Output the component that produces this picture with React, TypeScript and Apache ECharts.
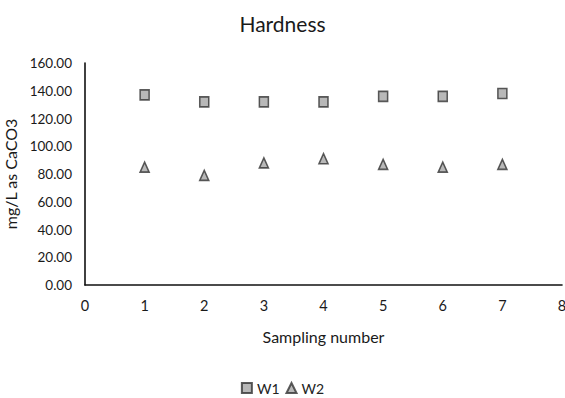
import React, { useEffect, useRef } from "react";
import * as echarts from "echarts";

// Sampling rounds 1..7
const samplingNumbers = [1, 2, 3, 4, 5, 6, 7];
// Hardness (mg/L as CaCO3)
const w1Values = [137, 132, 132, 132, 136, 136, 138];
const w2Values = [85, 79, 88, 91, 87, 85, 87];

const FONT = "Lato, 'Open Sans', sans-serif";

export default function App() {
  const ref = useRef<HTMLDivElement>(null);

  useEffect(() => {
    if (!ref.current) return;
    const chart = echarts.init(ref.current, undefined, { renderer: "svg" });
    const markerStyle = {
      color: "#a6a6a6",
      borderColor: "#333333",
      borderWidth: 1.6,
    };
    chart.setOption({
      animation: false,
      backgroundColor: "#ffffff",
      textStyle: { fontFamily: FONT },
      title: {
        text: "Hardness",
        left: "center",
        top: 8,
        textStyle: { fontFamily: FONT, fontSize: 21, fontWeight: "normal", color: "#1a1a1a" },
      },
      legend: {
        top: 376,
        left: "center",
        itemWidth: 10,
        itemHeight: 10,
        itemGap: 6,
        textStyle: { fontFamily: FONT, fontSize: 14, color: "#222" },
        data: ["W1", "W2"],
      },
      grid: {
        left: 85,
        right: 3,
        top: 63,
        bottom: 113,
        containLabel: false,
        outerBoundsMode: "none",
      },
      xAxis: {
        type: "value",
        min: 0,
        max: 8,
        interval: 1,
        name: "Sampling number",
        nameLocation: "middle",
        nameGap: 43,
        nameTextStyle: { fontFamily: FONT, fontSize: 16, color: "#1a1a1a" },
        axisLine: { show: true, lineStyle: { color: "#111", width: 1.6 } },
        axisTick: { show: false },
        splitLine: { show: false },
        axisLabel: { fontFamily: FONT, fontSize: 14.5, color: "#1a1a1a", margin: 13 },
      },
      yAxis: {
        type: "value",
        min: 0,
        max: 160,
        interval: 20,
        name: "mg/L as CaCO3",
        nameLocation: "middle",
        nameGap: 57,
        nameTextStyle: { fontFamily: FONT, fontSize: 16, color: "#1a1a1a" },
        axisLine: { show: true, lineStyle: { color: "#111", width: 1.6 } },
        axisTick: { show: false },
        splitLine: { show: false },
        axisLabel: {
          fontFamily: FONT,
          fontSize: 13.5,
          color: "#1a1a1a",
          margin: 13,
          formatter: (v: number) => v.toFixed(2),
        },
      },
      series: [
        {
          name: "W1",
          type: "scatter",
          symbol: "rect",
          symbolSize: [9, 10],
          itemStyle: markerStyle,
          data: samplingNumbers.map((x, i) => [x, w1Values[i]]),
        },
        {
          name: "W2",
          type: "scatter",
          symbol: "triangle",
          symbolSize: [9, 10],
          itemStyle: markerStyle,
          data: samplingNumbers.map((x, i) => [x, w2Values[i]]),
        },
      ],
    });
    return () => chart.dispose();
  }, []);

  return (
    <div
      ref={ref}
      style={{ position: "fixed", left: 0, top: 0, width: 565, height: 398 }}
    />
  );
}
